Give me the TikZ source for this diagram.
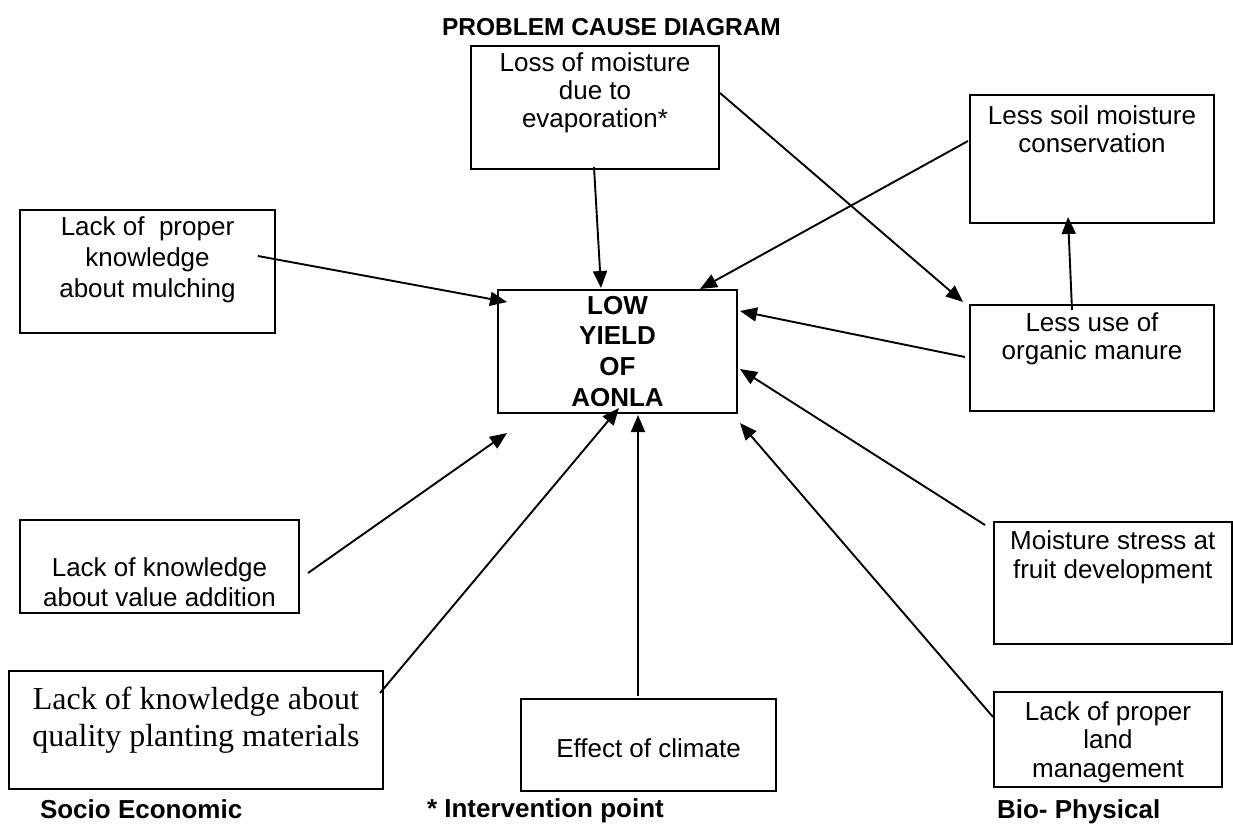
\documentclass[tikz,border=0pt]{standalone}
\usepackage{fontspec}
\setmainfont{Liberation Sans}
\newfontfamily\timesf{Liberation Serif}
\usetikzlibrary{arrows.meta,calc}
\newcommand{\bt}[5]{\parbox[c][#2][t]{#1}{\centering\fontsize{26}{#4}\selectfont\rule{0pt}{#3}#5\par}}
\tikzset{
  box/.style={draw, line width=2pt, inner sep=0pt, outer sep=0pt, anchor=north west},
  conn/.style={draw, line width=1.9pt, -{Triangle[length=17pt,width=14pt]}},
  lbl/.style={inner sep=0pt, outer sep=0pt, anchor=base west, font=\bfseries\fontsize{26}{30}\selectfont}
}
\begin{document}
\begin{tikzpicture}[x=1pt,y=-1pt]
\useasboundingbox (0,0) rectangle (1233,825);
% title
\node[lbl, font=\bfseries\fontsize{24.5}{30}\selectfont] (title) at (442,35) {PROBLEM CAUSE DIAGRAM};
% boxes
\node[box] (loss) at (471,46) {\bt{248pt}{123pt}{25pt}{28pt}{Loss of moisture\\due to\\evaporation*}};
\node[box] (low) at (498,290) {\bt{239pt}{123pt}{24pt}{30.7pt}{\bfseries LOW\\YIELD\\OF\\AONLA}};
\node[box] (mulch) at (20,210) {\bt{255pt}{123pt}{25pt}{31pt}{Lack of\ \ proper\\knowledge\\about mulching}};
\node[box] (value) at (20,520) {\bt{279pt}{93pt}{56pt}{30pt}{Lack of knowledge\\about value addition}};
\node[box] (quality) at (9,671) {\bt{374pt}{118pt}{38pt}{28pt}{\timesf\fontsize{32}{37}\selectfont Lack of knowledge about\\quality planting materials}};
\node[box] (climate) at (521,699) {\bt{255pt}{92pt}{58pt}{28pt}{Effect of climate}};
\node[box] (soil) at (970,95) {\bt{244pt}{128pt}{29pt}{28pt}{Less soil moisture\\conservation}};
\node[box] (manure) at (970,305) {\bt{244pt}{106pt}{26pt}{28.5pt}{Less use of\\organic manure}};
\node[box] (stress) at (994,522) {\bt{237.5pt}{122pt}{27pt}{29pt}{Moisture stress at\\fruit development}};
\node[box] (land) at (994,692) {\bt{228pt}{95pt}{28pt}{28.5pt}{Lack of proper\\land\\management}};
% bottom labels
\node[lbl] (socio) at (40,818) {Socio Economic};
\node[lbl] (interv) at (427,817) {* Intervention point};
\node[lbl] (bio) at (997,818) {Bio- Physical};
% connectors
\draw[conn] ($(loss.north west)+(123,121)$) -- ($(low.north west)+(103,-2)$);
\draw[conn] ($(loss.north west)+(249,47)$) -- ($(manure.north west)+(-7,-3)$);
\draw[conn] ($(soil.north west)+(-2,46)$) -- ($(low.north west)+(202,-1)$);
\draw[conn] ($(manure.north west)+(102,5)$) -- ($(soil.north west)+(98,122)$);
\draw[conn] ($(manure.north west)+(-5,52)$) -- ($(low.north west)+(242,21)$);
\draw[conn] ($(stress.north west)+(-9,3)$) -- ($(low.north west)+(242,79)$);
\draw[conn] ($(land.north west)+(-1,25)$) -- ($(low.north west)+(242,133)$);
\draw[conn] ($(climate.north west)+(117,-3)$) -- ($(low.north west)+(140,125)$);
\draw[conn] ($(quality.north west)+(371,22)$) -- ($(low.north west)+(121,118)$);
\draw[conn] ($(value.north west)+(288,53)$) -- ($(low.north west)+(9,143)$);
\draw[conn] ($(mulch.north west)+(238,46)$) -- ($(low.north west)+(9,12)$);
\end{tikzpicture}
\end{document}
